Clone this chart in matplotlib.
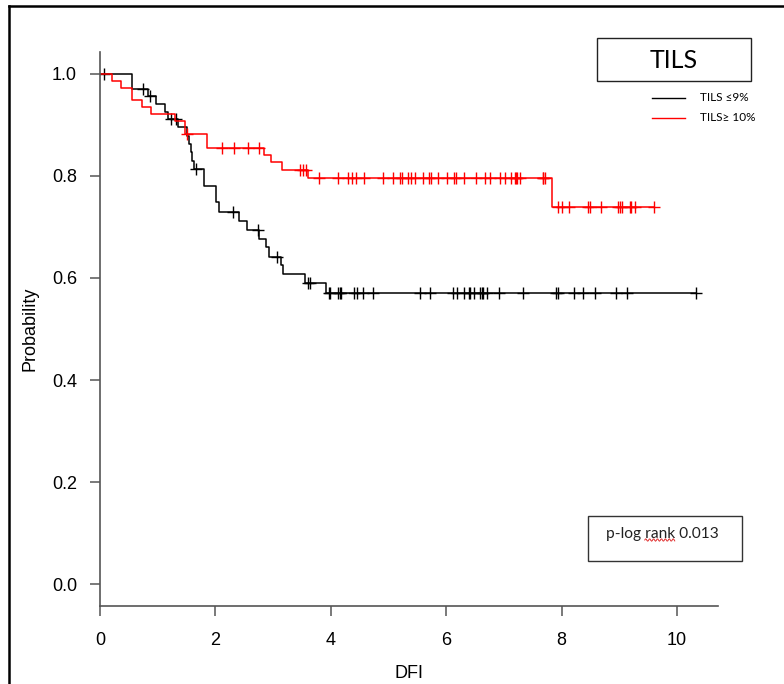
import matplotlib

matplotlib.use("Agg")
import matplotlib.pyplot as plt
import numpy as np
from matplotlib.lines import Line2D
from matplotlib.patches import Rectangle

# Kaplan-Meier curves for DFI by TILS group
low_event_t = [0.56, 0.84, 0.97, 1.13, 1.18, 1.36, 1.50, 1.54, 1.57, 1.60, 1.63,
               1.81, 2.01, 2.07, 2.41, 2.55, 2.76, 2.87, 2.93, 3.14, 3.18, 3.55, 3.91]
low_surv = [0.971, 0.957, 0.942, 0.926, 0.911, 0.895, 0.879, 0.862, 0.846, 0.830, 0.813,
            0.781, 0.748, 0.730, 0.712, 0.695, 0.677, 0.660, 0.642, 0.625, 0.607, 0.590, 0.570]
low_censor_t = [0.075, 0.75, 0.87, 1.23, 1.32, 1.66, 2.30, 2.73, 3.06, 3.60, 3.64,
                3.96, 3.98, 4.13, 4.16, 4.18, 4.40, 4.46, 4.56, 4.73, 5.55, 5.72,
                6.12, 6.19, 6.30, 6.40, 6.41, 6.49, 6.59, 6.62, 6.63, 6.70, 6.92,
                7.33, 7.91, 7.94, 8.21, 8.37, 8.58, 8.95, 9.14, 10.33]

high_event_t = [0.21, 0.36, 0.56, 0.73, 0.88, 1.30, 1.47, 1.86, 2.84, 2.96, 3.16, 3.60, 7.83]
high_surv = [0.987, 0.973, 0.948, 0.936, 0.922, 0.908, 0.882, 0.855, 0.842, 0.827, 0.811,
             0.796, 0.739]
high_censor_t = [1.50, 2.11, 2.32, 2.57, 2.75, 3.47, 3.52, 3.57, 3.80, 4.13, 4.30, 4.37,
                 4.44, 4.58, 4.90, 5.07, 5.20, 5.23, 5.33, 5.39, 5.46, 5.60, 5.71, 5.74,
                 5.85, 6.01, 6.14, 6.17, 6.30, 6.51, 6.68, 6.76, 6.93, 7.02, 7.12, 7.19,
                 7.21, 7.23, 7.27, 7.67, 7.68, 7.71, 7.93, 8.00, 8.12, 8.45, 8.50, 8.68,
                 8.98, 9.02, 9.04, 9.19, 9.20, 9.28, 9.60]

x_ticks = [0, 2, 4, 6, 8, 10]
y_ticks = [0.0, 0.2, 0.4, 0.6, 0.8, 1.0]
group_labels = ["TILS \u22649%", "TILS\u2265 10%"]
p_prefix = "p-log "
p_word = "rank"
p_value = " 0.013"

AXIS_GREY = "#555555"
TICK_FONT = ["Liberation Sans Narrow", "Liberation Sans", "DejaVu Sans"]
BOX_FONT = ["Lato", "DejaVu Sans"]


def surv_at(times, surv, t):
    idx = np.searchsorted(times, t, side="right") - 1
    levels = np.r_[1.0, surv]
    return levels[idx + 1]


def draw_curve(ax, times, surv, censor_t, color):
    times = np.asarray(times)
    surv = np.asarray(surv)
    censor_t = np.asarray(censor_t)
    t_end = max(censor_t.max(), times.max())
    xs = np.r_[0.0, times, t_end]
    ys = np.r_[1.0, surv, surv[-1]]
    ax.step(xs, ys, where="post", color=color, lw=1.1)
    ax.plot(censor_t, surv_at(times, surv, censor_t), ls="none", marker="+",
            ms=9, mew=1.0, color=color)


fig = plt.figure(figsize=(7.84, 6.84), dpi=100)
ax = fig.add_axes([100 / 784, 1 - 606 / 684, 618 / 784, 554 / 684])

draw_curve(ax, low_event_t, low_surv, low_censor_t, "black")
draw_curve(ax, high_event_t, high_surv, high_censor_t, "red")

ax.set_xlim(0, 10.71)
ax.set_ylim(-0.043, 1.043)
ax.set_xticks(x_ticks)
ax.set_yticks(y_ticks)
ax.set_xticklabels([str(v) for v in x_ticks], family=TICK_FONT, fontsize=13)
ax.set_yticklabels([f"{v:.1f}" for v in y_ticks], family=TICK_FONT, fontsize=13)
for side in ("top", "right"):
    ax.spines[side].set_visible(False)
for side in ("left", "bottom"):
    ax.spines[side].set_color(AXIS_GREY)
    ax.spines[side].set_linewidth(1.2)
ax.tick_params(axis="x", direction="out", length=7.5, width=1.1, color=AXIS_GREY, pad=11)
ax.tick_params(axis="y", direction="out", length=7.5, width=1.1, color=AXIS_GREY, pad=9)
ax.set_xlabel("DFI", family=TICK_FONT, fontsize=13, labelpad=12)
ax.set_ylabel("Probability", family=TICK_FONT, fontsize=13, labelpad=10)

# title box
fig.patches.append(Rectangle((597 / 784, 1 - 81 / 684), 154 / 784, 43 / 684,
                             transform=fig.transFigure, fill=False, ec="#222222", lw=1.0))
fig.text(674 / 784, 1 - 60 / 684, "TILS", ha="center", va="center", fontsize=18,
         family=BOX_FONT)

# legend
for label, color, ypx in zip(group_labels, ["black", "red"], [97.5, 117.5]):
    fig.lines.append(Line2D([652 / 784, 685 / 784], [1 - ypx / 684] * 2,
                            transform=fig.transFigure, color=color, lw=1.0))
    fig.text(700 / 784, 1 - ypx / 684, label, ha="left", va="center", fontsize=8.5,
             family=BOX_FONT)

# p-value box
fig.patches.append(Rectangle((588 / 784, 1 - 561 / 684), 154 / 784, 45 / 684,
                             transform=fig.transFigure, fill=False, ec="#333333", lw=1.0))
p_txt = fig.text(662 / 784, 1 - 534 / 684, p_prefix + p_word + p_value, ha="center",
                 va="center", fontsize=11.2, family=BOX_FONT, color="#222222")

# red spell-check squiggle under "rank"
renderer = fig.canvas.get_renderer()
full = p_txt.get_window_extent(renderer)
probe = fig.text(0, 0, p_prefix.rstrip() + "\u00a0", fontsize=11.2, family=BOX_FONT)
pre_w = probe.get_window_extent(renderer).width
probe.set_text(p_word)
word_w = probe.get_window_extent(renderer).width
probe.remove()
sx = np.linspace(full.x0 + pre_w, full.x0 + pre_w + word_w, 40)
sy = full.y0 + 1.0 + 1.2 * np.sin((sx - sx[0]) * 1.6)
fig.lines.append(Line2D(sx / fig.bbox.width, sy / fig.bbox.height,
                        transform=fig.transFigure, color="#e03030", lw=0.7))

# outer frame (left and top edges of the screenshot)
fig.lines.append(Line2D([9 / 784, 9 / 784], [0, 1 - 6 / 684], transform=fig.transFigure,
                        color="black", lw=1.8))
fig.lines.append(Line2D([9 / 784, 1], [1 - 6 / 684] * 2, transform=fig.transFigure,
                        color="black", lw=1.8))

fig.savefig("out.png", dpi=100)
